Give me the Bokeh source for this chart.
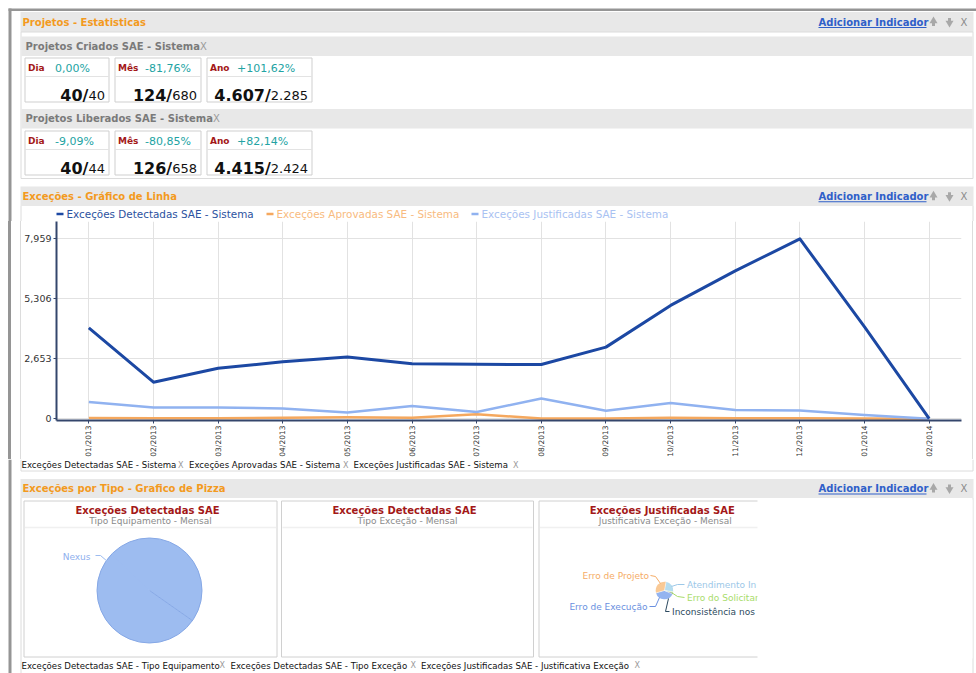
import math
from bokeh.plotting import figure
from bokeh.layouts import column, row
from bokeh.models import Range1d, FactorRange, FixedTicker, NumeralTickFormatter, Div
from bokeh.core.properties import value
from bokeh.embed import file_html
from bokeh.resources import INLINE

FONT = value("DejaVu Sans")

# ---------------- data ----------------
periodos = ["Dia", "Mês", "Ano"]
criados_atual = [40, 124, 4607]
criados_anterior = [40, 680, 2285]
liberados_atual = [40, 126, 4415]
liberados_anterior = [44, 658, 2424]

meses = ["01/2013", "02/2013", "03/2013", "04/2013", "05/2013", "06/2013", "07/2013",
         "08/2013", "09/2013", "10/2013", "11/2013", "12/2013", "01/2014", "02/2014"]
exc_detectadas = [4017, 1615, 2231, 2521, 2728, 2433, 2407, 2400, 3168, 5016, 6543, 7959, 4061, 0]
exc_aprovadas = [30, 20, 20, 40, 60, 40, 200, 10, 10, 40, 20, 20, 10, 0]
exc_justificadas = [735, 499, 490, 455, 279, 558, 294, 896, 352, 690, 382, 367, 161, 0]
serie_nomes = ["Exceções Detectadas SAE - Sistema", "Exceções Aprovadas SAE - Sistema",
               "Exceções Justificadas SAE - Sistema"]

equip_labels = ["Nexus"]
equip_values = [100]
justif_labels = ["Atendimento In", "Erro do Solicitan", "Inconsistência nos",
                 "Erro de Execução", "Erro de Projeto"]
justif_values = [22, 2, 2, 35, 29]

# ---------------- colours ----------------
C_HDR = "#e8e8e8"
C_ORANGE_T = "#f39a1e"
C_LINK = "#2f5fc9"
C_RED = "#a31818"
C_TEAL = "#22a3a3"
C_BORDER = "#dcdcdc"
C_FRAME = "#959595"
serie_cores = ["#1c48a3", "#f5a85e", "#90b2f0"]
legend_text_cores = ["#2c52a0", "#f8bb80", "#a9c2f2"]
equip_cores = ["#9dbcf0"]
justif_cores = ["#b5dcef", "#b8e68a", "#34495e", "#94b4f0", "#f9c995"]
justif_text_cores = ["#9cc8e8", "#a8dc6a", "#2c4a60", "#6a90e0", "#f5ac66"]


def canvas(x0, x1, y0, y1):
    p = figure(width=int(round(x1 - x0)), height=int(round(y1 - y0)), x_range=Range1d(x0, x1),
               y_range=Range1d(y1, y0), output_backend="svg", toolbar_location=None,
               x_axis_location=None, y_axis_location=None, min_border=0,
               outline_line_color=None)
    p.min_border_left = p.min_border_right = p.min_border_top = p.min_border_bottom = 0
    p.grid.visible = False
    p.background_fill_color = "white"
    p.border_fill_color = "white"
    return p


def txt(p, x, y, s, size, color, bold=False, align="left", baseline="middle"):
    p.text(x=[x], y=[y], text=[s], text_font=FONT, text_font_size=size,
           text_color=color, text_font_style="bold" if bold else "normal",
           text_align=align, text_baseline=baseline)


def panel_header(p, y0, y1, title):
    mid = (y0 + y1) / 2
    p.quad(left=[20], right=[973], top=[y0], bottom=[y1], fill_color=C_HDR, line_color=None)
    txt(p, 22, mid, title, "10px", C_ORANGE_T, bold=True)
    txt(p, 818, mid, "Adicionar Indicador", "10px", C_LINK, bold=True)
    p.segment(x0=[818], y0=[mid + 5.5], x1=[926], y1=[mid + 5.5], line_color=C_LINK, line_width=1)
    p.scatter(x=[933], y=[mid - 1], marker="triangle", size=8, fill_color="#a8a8a8", line_color=None)
    p.quad(left=[931.5], right=[934.5], top=[mid], bottom=[mid + 4], fill_color="#a8a8a8", line_color=None)
    p.quad(left=[947.5], right=[950.5], top=[mid - 4], bottom=[mid], fill_color="#a8a8a8", line_color=None)
    p.scatter(x=[949], y=[mid + 1], marker="inverted_triangle", size=8, fill_color="#a8a8a8", line_color=None)
    txt(p, 960, mid, "X", "10px", "#8a8a8a")


def fmt_num(n):
    return f"{n:,}".replace(",", ".")


def fmt_pct(a, b):
    v = (a - b) / b * 100
    s = f"{abs(v):.2f}".replace(".", ",") + "%"
    if v > 0.0005:
        return "+" + s
    if v < -0.0005:
        return "-" + s
    return s


def approx_w(s, size):
    w = 0.0
    for ch in s:
        if ch.isdigit():
            w += 0.636
        elif ch in ".,":
            w += 0.318
        else:
            w += 0.6
    return w * size


def stat_boxes(p, y_top, atual, anterior):
    lefts = [24.5, 114.5, 206.5]
    rights = [108.5, 200.5, 311.5]
    for i in range(3):
        l, r = lefts[i], rights[i]
        p.quad(left=[l], right=[r], top=[y_top], bottom=[y_top + 44], fill_color="white",
               line_color="#cfcfcf", line_width=1)
        p.segment(x0=[l], y0=[y_top + 18.5], x1=[r], y1=[y_top + 18.5], line_color="#e3e3e3")
        txt(p, l + 3, y_top + 10, periodos[i], "9px", C_RED, bold=True)
        txt(p, l + 30, y_top + 10, fmt_pct(atual[i], anterior[i]), "11px", C_TEAL)
        ant = fmt_num(anterior[i])
        txt(p, r - 4, y_top + 37.5, ant, "13px", "#111111", align="right", baseline="alphabetic")
        txt(p, r - 4 - approx_w(ant, 13), y_top + 37.5, fmt_num(atual[i]) + "/", "16px",
            "#111111", bold=True, align="right", baseline="alphabetic")


def draw_pie(p, cx, cy, R, values, start_deg, colors, edge_color, edge_width, outline=True):
    tot = float(sum(values))
    angs = [math.radians(start_deg)]
    for v in values:
        angs.append(angs[-1] - 2 * math.pi * v / tot)   # clockwise
    s, e, cols = [], [], []
    for i in range(len(values)):
        lo, hi = angs[i + 1], angs[i]
        if hi - lo > math.pi:
            mid = (lo + hi) / 2
            s += [lo, mid - 0.15]
            e += [mid + 0.15, hi]
            cols += [colors[i], colors[i]]
        else:
            s.append(lo)
            e.append(hi)
            cols.append(colors[i])
    p.wedge(x=[cx] * len(s), y=[cy] * len(s), radius=R, start_angle=s, end_angle=e,
            direction="anticlock", fill_color=cols, line_color=None)
    p.ray(x=[cx] * len(values), y=[cy] * len(values), length=R, angle=angs[:-1],
          line_color=edge_color, line_width=edge_width)
    if outline:
        p.circle(x=[cx], y=[cy], radius=R, fill_color=None, line_color=edge_color,
                 line_width=edge_width)


# ================= top canvas (page y 0..221) =================
top = canvas(0, 976, 0, 221)
top.quad(left=[8], right=[976], top=[8], bottom=[10.5], fill_color=C_FRAME, line_color=None)
top.quad(left=[8], right=[11], top=[8], bottom=[221], fill_color=C_FRAME, line_color=None)

panel_header(top, 11.5, 31.5, "Projetos - Estatisticas")
top.quad(left=[20.5], right=[972.5], top=[31.5], bottom=[178], fill_color="white",
         line_color=C_BORDER, line_width=1)
top.quad(left=[21], right=[972], top=[36], bottom=[55.5], fill_color=C_HDR, line_color=None)
txt(top, 25, 45.5, "Projetos Criados SAE - Sistema", "10px", "#7a7a7a", bold=True)
txt(top, 199.5, 45.5, "X", "10px", "#9a9a9a")
stat_boxes(top, 57.5, criados_atual, criados_anterior)

top.quad(left=[21], right=[972], top=[108.5], bottom=[128], fill_color=C_HDR, line_color=None)
txt(top, 25, 118, "Projetos Liberados SAE - Sistema", "10px", "#7a7a7a", bold=True)
txt(top, 212.5, 118, "X", "10px", "#9a9a9a")
stat_boxes(top, 130.5, liberados_atual, liberados_anterior)

panel_header(top, 186, 205.5, "Exceções - Gráfico de Linha")
top.segment(x0=[20.5, 972.5], y0=[205.5, 205.5], x1=[20.5, 972.5], y1=[221, 221], line_color=C_BORDER)
leg_dash_x = [56, 266, 471]
for i, nome in enumerate(serie_nomes):
    x = leg_dash_x[i]
    top.segment(x0=[x], y0=[213.5], x1=[x + 7], y1=[213.5], line_color=serie_cores[i], line_width=2.5)
    txt(top, x + 10, 213.5, nome, "10.4px", legend_text_cores[i])

# ================= line chart row (page y 221..459) =================
left_strip = Div(width=21, height=238, margin=0,
                 text=('<div style="position:relative;width:21px;height:238px;">'
                       '<div style="position:absolute;left:8px;top:0;width:3px;height:238px;'
                       'background:%s"></div>'
                       '<div style="position:absolute;left:20px;top:0;width:1px;height:238px;'
                       'background:%s"></div></div>') % (C_FRAME, C_BORDER))
right_strip = Div(width=4, height=238, margin=0,
                  text=('<div style="position:relative;width:4px;height:238px;">'
                        '<div style="position:absolute;left:0;top:0;width:1px;height:238px;'
                        'background:%s"></div></div>') % C_BORDER)

ymax = max(exc_detectadas)
yticks = [round(ymax * k / 3) for k in range(4)]

chart = figure(width=951, height=238, x_range=FactorRange(factors=meses),
               y_range=Range1d(-80, 8730), output_backend="svg", toolbar_location=None,
               min_border_left=33, min_border_right=11, min_border_top=0, min_border_bottom=38)
chart.outline_line_color = None
chart.background_fill_color = "white"
chart.border_fill_color = "white"
chart.xgrid.grid_line_color = "#e2e2e2"
chart.ygrid.grid_line_color = "#e2e2e2"
chart.yaxis.ticker = FixedTicker(ticks=yticks)
chart.yaxis.formatter = NumeralTickFormatter(format="0,0")
for ax in (chart.xaxis[0], chart.yaxis[0]):
    ax.axis_line_color = "#34466c"
    ax.axis_line_width = 2
    ax.major_tick_line_color = "#34466c"
    ax.major_tick_in = 0
    ax.major_tick_out = 3
    ax.minor_tick_line_color = None
    ax.major_label_text_font = "DejaVu Sans"
    ax.major_label_text_color = "#333333"
    ax.major_label_standoff = 2
chart.yaxis.major_label_text_font_size = "9.5px"
chart.xaxis.major_label_text_font_size = "7.5px"
chart.xaxis.major_label_orientation = math.pi / 2

chart.line(x=meses, y=exc_aprovadas, line_color=serie_cores[1], line_width=2.5, line_join="round")
chart.line(x=meses, y=exc_justificadas, line_color=serie_cores[2], line_width=2.5, line_join="round")
chart.line(x=meses, y=exc_detectadas, line_color=serie_cores[0], line_width=3, line_join="round")

# ================= bottom canvas (page y 459..673) =================
bot = canvas(0, 976, 459, 673)
bot.quad(left=[8], right=[11], top=[459], bottom=[673], fill_color=C_FRAME, line_color=None)
bot.segment(x0=[20.5, 972.5, 20.5], y0=[459, 459, 470.5], x1=[20.5, 972.5, 972.5],
            y1=[470.5, 470.5, 470.5], line_color=C_BORDER)
foot1_x = [21, 188.5, 353]
foot1_xx = [177.5, 342.5, 512.5]
for i, nome in enumerate(serie_nomes):
    txt(bot, foot1_x[i], 464.5, nome, "8.6px", "#111111")
    txt(bot, foot1_xx[i], 464.5, "X", "8px", "#9a9a9a")

panel_header(bot, 478.5, 497.5, "Exceções por Tipo - Grafico de Pizza")
bot.segment(x0=[20.5, 972.5], y0=[497.5, 497.5], x1=[20.5, 972.5], y1=[673, 673], line_color=C_BORDER)

box_l = [23.5, 281, 538.5]
box_r = [276.5, 533, 791]
box_titles = ["Exceções Detectadas SAE", "Exceções Detectadas SAE", "Exceções Justificadas SAE"]
box_subs = ["Tipo Equipamento - Mensal", "Tipo Exceção - Mensal", "Justificativa Exceção - Mensal"]
for i in range(3):
    l, r = box_l[i], box_r[i]
    bot.quad(left=[l], right=[r], top=[500.5], bottom=[656.5], fill_color="white",
             line_color="#d0d0d0", line_width=1)
    bot.segment(x0=[l + 1], y0=[527], x1=[r - 1], y1=[527], line_color="#f0f0f0", line_width=1.5)
    cx = (l + r) / 2
    txt(bot, cx - 3, 509.5, box_titles[i], "10px", C_RED, bold=True, align="center")
    txt(bot, cx, 520, box_subs[i], "9px", "#8a8a8a", align="center")

# pie 1 (single category)
draw_pie(bot, 149, 590, 52.5, equip_values, -35, equip_cores, "#86a8e6", 1)
bot.line(x=[95, 100, 107], y=[555, 555, 561], line_color="#9dbcf0", line_width=1)
txt(bot, 90, 556, equip_labels[0], "9px", "#8fb0ee", align="right")

# pie 3 (justificativas)
draw_pie(bot, 664, 590, 8.8, justif_values, 80, justif_cores, "white", 0.5, outline=False)
conn = [
    ([684, 677, 671], [584, 584, 586]),
    ([684, 677, 671], [597, 596, 592]),
    ([669, 665, 668], [611, 611, 598]),
    ([649, 655, 659], [606, 606, 597]),
    ([650, 655, 660], [575, 576, 583]),
]
lab_pos = [(686.5, 584, "left"), (686.5, 597.5, "left"), (671.5, 611, "left"),
           (647, 606.5, "right"), (648.5, 575, "right")]
for i, lab in enumerate(justif_labels):
    xs, ys = conn[i]
    bot.line(x=xs, y=ys, line_color=justif_text_cores[i], line_width=1)
    x, y, al = lab_pos[i]
    txt(bot, x, y, lab, "9px", justif_text_cores[i], align=al)
# crop of the third box at its visible edge
bot.quad(left=[757], right=[972], top=[499], bottom=[658], fill_color="white", line_color=None)

foot2_x = [21, 230, 420.5]
foot2_xx = [219, 410, 634]
foot2_txt = ["Exceções Detectadas SAE - Tipo Equipamento", "Exceções Detectadas SAE - Tipo Exceção",
             "Exceções Justificadas SAE - Justificativa Exceção"]
for i, s in enumerate(foot2_txt):
    txt(bot, foot2_x[i], 665, s, "8.6px", "#111111")
    txt(bot, foot2_xx[i], 665, "X", "8px", "#9a9a9a")

layout = column(top, row(left_strip, chart, right_strip), bot)

with open("out.html", "w") as f:
    f.write(file_html(layout, INLINE))
